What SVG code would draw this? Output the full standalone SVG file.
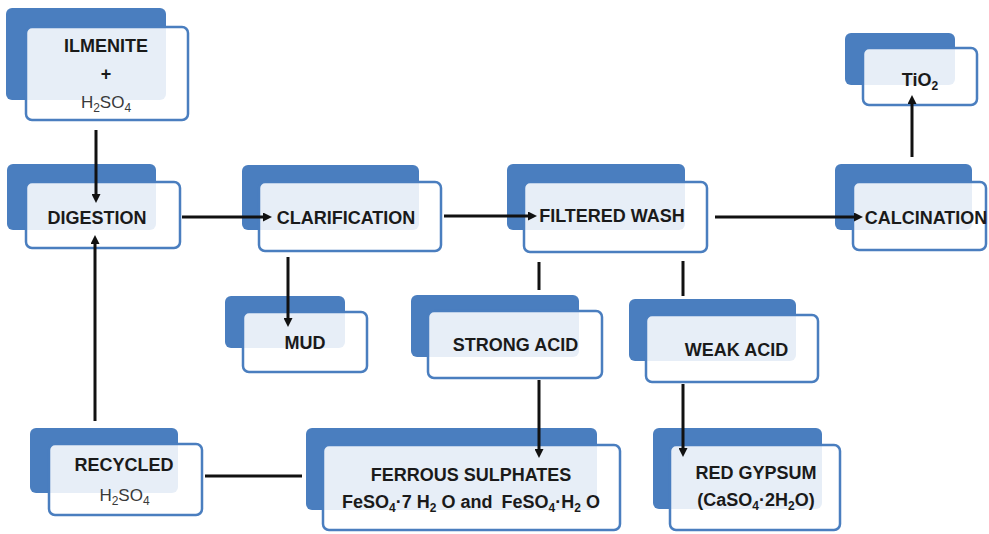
<svg xmlns="http://www.w3.org/2000/svg" width="989" height="534" viewBox="0 0 989 534">
<defs>
<style>
.back{fill:#4a7ebf;}
.front{fill:#ffffff;fill-opacity:0.87;stroke:#4a7ebf;stroke-width:2.5;}
.t{font-family:"Liberation Sans",Arial,sans-serif;font-size:18px;font-weight:bold;fill:#1a1a1a;text-anchor:middle;}
.r{font-family:"Liberation Sans",Arial,sans-serif;font-size:17px;fill:#3a3a3a;text-anchor:middle;}
.c{fill:none;stroke:#111;stroke-width:3;}
</style>
<marker id="ah" viewBox="0 0 10 10" refX="3" refY="5" markerWidth="3" markerHeight="3" orient="auto">
<path d="M0,0 L10,5 L0,10 z" fill="#111"/>
</marker>
</defs>
<rect width="989" height="534" fill="#ffffff"/>

<g id="ilmenite">
<rect class="back" x="6" y="8" width="160" height="92" rx="6"/>
<rect class="front" x="26" y="27" width="162" height="93" rx="6"/>
<text class="t" x="106" y="51.5">ILMENITE</text>
<text class="t" x="106" y="80">+</text>
<text class="r" x="106" y="108">H<tspan font-size="12" dy="4">2</tspan><tspan dy="-4">SO</tspan><tspan font-size="12" dy="4">4</tspan></text>
</g>

<g id="digestion">
<rect class="back" x="7" y="164" width="149" height="66" rx="6"/>
<rect class="front" x="26" y="182" width="154" height="66" rx="6"/>
<text class="t" x="97" y="224">DIGESTION</text>
</g>

<g id="clarification">
<rect class="back" x="242" y="165" width="177" height="65" rx="6"/>
<rect class="front" x="259" y="182" width="182" height="69" rx="6"/>
<text class="t" x="346" y="223.5">CLARIFICATION</text>
</g>

<g id="filtered-wash">
<rect class="back" x="507" y="164" width="178" height="66" rx="6"/>
<rect class="front" x="524" y="182" width="183" height="70" rx="6"/>
<text class="t" x="612" y="222">FILTERED WASH</text>
</g>

<g id="calcination">
<rect class="back" x="835" y="164" width="137" height="66" rx="6"/>
<rect class="front" x="853" y="182" width="133" height="68" rx="6"/>
<text class="t" x="926" y="223.5">CALCINATION</text>
</g>

<g id="tio2">
<rect class="back" x="845" y="33" width="110" height="52" rx="6"/>
<rect class="front" x="863" y="48" width="114" height="57" rx="6"/>
<text class="t" x="920" y="86">TiO<tspan font-size="12" dy="4">2</tspan></text>
</g>

<g id="mud">
<rect class="back" x="225" y="296" width="120" height="52" rx="6"/>
<rect class="front" x="243" y="312" width="124" height="60" rx="6"/>
<text class="t" x="305" y="349">MUD</text>
</g>

<g id="strong-acid">
<rect class="back" x="411" y="295" width="168" height="62" rx="6"/>
<rect class="front" x="428" y="311" width="174" height="67" rx="6"/>
<text class="t" x="515.5" y="351">STRONG ACID</text>
</g>

<g id="weak-acid">
<rect class="back" x="629" y="299" width="167" height="62" rx="6"/>
<rect class="front" x="646" y="315" width="172" height="67" rx="6"/>
<text class="t" x="736.5" y="356">WEAK ACID</text>
</g>

<g id="recycled">
<rect class="back" x="30" y="428" width="148" height="65" rx="6"/>
<rect class="front" x="49" y="444" width="153" height="71" rx="6"/>
<text class="t" x="124" y="471">RECYCLED</text>
<text class="r" x="124.5" y="501">H<tspan font-size="12" dy="4">2</tspan><tspan dy="-4">SO</tspan><tspan font-size="12" dy="4">4</tspan></text>
</g>

<g id="ferrous-sulphates">
<rect class="back" x="306" y="428" width="291" height="82" rx="6"/>
<rect class="front" x="323" y="445" width="297" height="85" rx="6"/>
<text class="t" x="471" y="481">FERROUS SULPHATES</text>
<text class="t" x="471" y="508">FeSO<tspan font-size="12" dy="4">4</tspan><tspan dy="-4">·7 H</tspan><tspan font-size="12" dy="4">2</tspan><tspan dy="-4"> O and</tspan><tspan dx="9">FeSO</tspan><tspan font-size="12" dy="4">4</tspan><tspan dy="-4">·H</tspan><tspan font-size="12" dy="4">2</tspan><tspan dy="-4"> O</tspan></text>
</g>

<g id="red-gypsum">
<rect class="back" x="653" y="428" width="169" height="81" rx="6"/>
<rect class="front" x="670" y="445" width="170" height="85" rx="6"/>
<text class="t" x="756" y="479">RED GYPSUM</text>
<text class="t" x="756" y="506">(CaSO<tspan font-size="12" dy="4">4</tspan><tspan dy="-4">·2H</tspan><tspan font-size="12" dy="4">2</tspan><tspan dy="-4">O)</tspan></text>
</g>

<g id="connectors">
<path class="c" d="M96 130 V196.7" marker-end="url(#ah)"/>
<path class="c" d="M95 421 V241.3" marker-end="url(#ah)"/>
<path class="c" d="M182 217 H265.7" marker-end="url(#ah)"/>
<path class="c" d="M288 257 V320.7" marker-end="url(#ah)"/>
<path class="c" d="M444 216 H530.7" marker-end="url(#ah)"/>
<path class="c" d="M715 217 H856.7" marker-end="url(#ah)"/>
<path class="c" d="M912 157 V101.3" marker-end="url(#ah)"/>
<path class="c" d="M539 262 V290"/>
<path class="c" d="M683 261 V296"/>
<path class="c" d="M539 380 V451.7" marker-end="url(#ah)"/>
<path class="c" d="M683 384 V450.7" marker-end="url(#ah)"/>
<path class="c" d="M205 476 H302"/>
</g>
</svg>
